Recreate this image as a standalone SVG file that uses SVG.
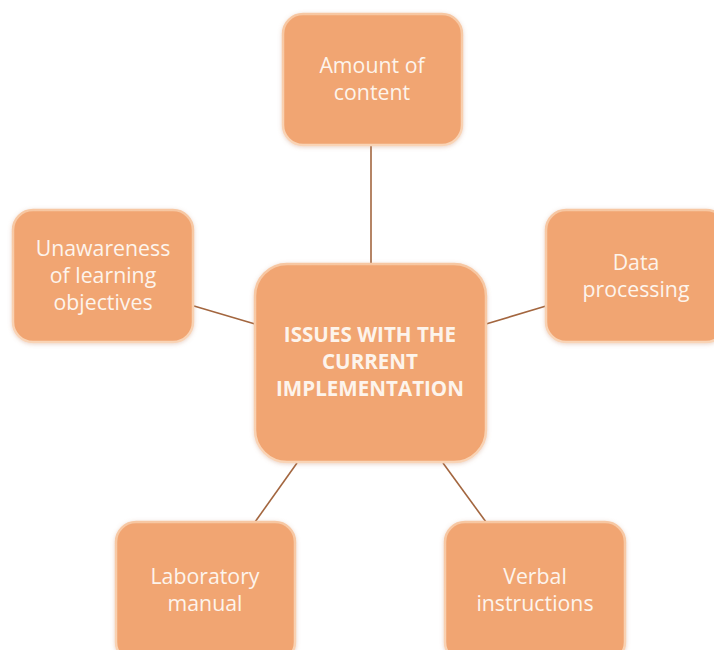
<svg xmlns="http://www.w3.org/2000/svg" width="714" height="650" viewBox="0 0 714 650">
<defs>
<filter id="sh" x="-10%" y="-10%" width="120%" height="120%">
<feGaussianBlur in="SourceAlpha" stdDeviation="2"/>
<feOffset dx="0" dy="1" result="b"/>
<feFlood flood-color="#c08060" flood-opacity="0.35"/>
<feComposite in2="b" operator="in"/>
<feMerge><feMergeNode/><feMergeNode in="SourceGraphic"/></feMerge>
</filter>
<linearGradient id="edge" x1="0" y1="0" x2="0" y2="1">
<stop offset="0" stop-color="#f7c7a2"/>
<stop offset="1" stop-color="#f9d4b6"/>
</linearGradient>
</defs>
<style>
.box{fill:#f1a572;stroke:url(#edge);stroke-width:2.5;filter:url(#sh)}
.t{font-family:"Open Sans","Liberation Sans",sans-serif;font-size:21.3px;fill:#fdf4ec;text-anchor:middle}
.b{font-family:"Open Sans","Liberation Sans",sans-serif;font-size:20.6px;font-weight:bold;fill:#fdf4ec;text-anchor:middle}
.c{stroke:#a3663f;stroke-width:1.6;fill:none}
</style>
<rect width="714" height="650" fill="#ffffff"/>
<g id="connectors">
<line class="c" x1="371" y1="146" x2="371" y2="264"/>
<line class="c" x1="194" y1="306" x2="255" y2="324"/>
<line class="c" x1="486" y1="324" x2="546" y2="306"/>
<line class="c" x1="297" y1="463" x2="255" y2="522"/>
<line class="c" x1="443" y1="463" x2="486" y2="522"/>
</g>
<g id="center">
<rect class="box" x="255" y="264" width="231" height="198" rx="32"/>
<text class="b" x="370" y="342">ISSUES WITH THE</text>
<text class="b" x="370" y="369">CURRENT</text>
<text class="b" x="370" y="396">IMPLEMENTATION</text>
</g>
<g id="amount">
<rect class="box" x="283" y="14" width="179" height="131" rx="20"/>
<text class="t" x="372" y="73">Amount of</text>
<text class="t" x="372" y="100">content</text>
</g>
<g id="unawareness">
<rect class="box" x="13" y="210" width="180" height="132" rx="20"/>
<text class="t" x="103" y="256">Unawareness</text>
<text class="t" x="103" y="283">of learning</text>
<text class="t" x="103" y="310">objectives</text>
</g>
<g id="data">
<rect class="box" x="546" y="210" width="180" height="132" rx="20"/>
<text class="t" x="636" y="270">Data</text>
<text class="t" x="636" y="297">processing</text>
</g>
<g id="lab">
<rect class="box" x="116" y="522" width="179" height="140" rx="20"/>
<text class="t" x="205" y="584">Laboratory</text>
<text class="t" x="205" y="611">manual</text>
</g>
<g id="verbal">
<rect class="box" x="445" y="522" width="180" height="140" rx="20"/>
<text class="t" x="535" y="584">Verbal</text>
<text class="t" x="535" y="611">instructions</text>
</g>
</svg>
